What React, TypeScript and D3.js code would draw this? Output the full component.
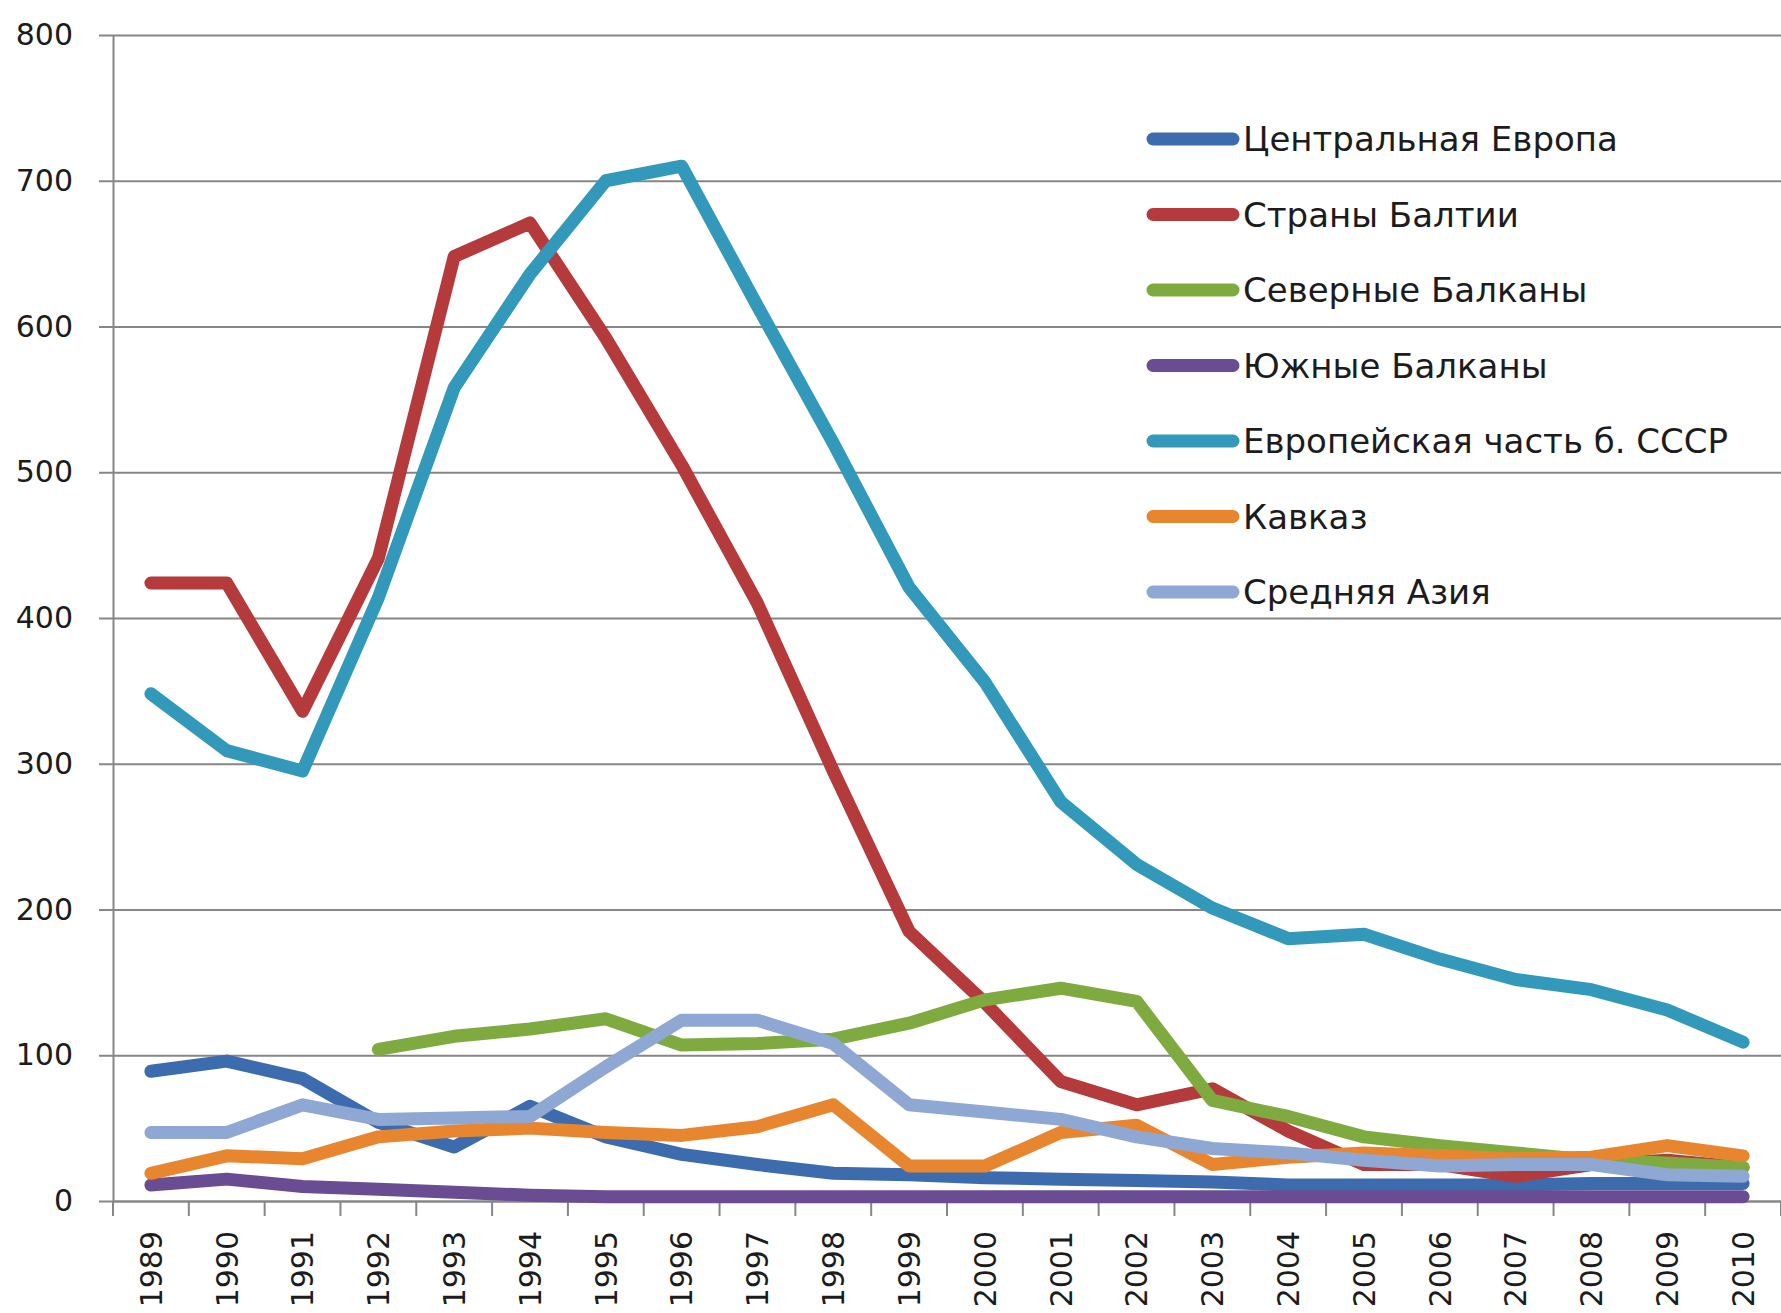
import { useEffect, useRef } from 'react';
import * as d3 from 'd3';

const years = [
  '1989', '1990', '1991', '1992', '1993', '1994', '1995', '1996', '1997', '1998', '1999',
  '2000', '2001', '2002', '2003', '2004', '2005', '2006', '2007', '2008', '2009', '2010',
];

const centralEurope = [89, 96, 84, 54, 37, 65, 44, 32, 25, 19, 18, 16, 15, 14, 13, 11, 11, 11, 11, 12, 12, 12];
const baltic = [424, 424, 336, 441, 648, 671, 592, 505, 410, 295, 185, 136, 82, 66, 77, 48, 25, 25, 17, 25, 28, 23];
const northBalkans = [null, null, null, 104, 113, 118, 125, 107, 108, 111, 122, 138, 146, 137, 69, 58, 44, 38, 33, 28, 26, 23];
const southBalkans = [11, 15, 10, 8, 6, 4, 3, 3, 3, 3, 3, 3, 3, 3, 3, 3, 3, 3, 3, 3, 3, 3];
const exUssr = [348, 309, 295, 414, 558, 636, 700, 710, 614, 520, 421, 356, 274, 231, 201, 180, 183, 166, 152, 145, 131, 109];
const caucasus = [19, 31, 29, 44, 48, 50, 47, 45, 51, 66, 24, 24, 47, 52, 25, 30, 33, 31, 29, 30, 38, 31];
const centralAsia = [47, 47, 66, 56, 57, 58, 92, 124, 124, 108, 66, 61, 56, 44, 36, 33, 28, 24, 25, 25, 18, 17];

const seriesNames = [
  'Центральная Европа',
  'Страны Балтии',
  'Северные Балканы',
  'Южные Балканы',
  'Европейская часть б. СССР',
  'Кавказ',
  'Средняя Азия',
];
const seriesColors = ['#3d6cae', '#b43a3b', '#7eaa40', '#6a4c93', '#3399ba', '#e8862f', '#8fa7d3'];
const seriesValues = [centralEurope, baltic, northBalkans, southBalkans, exUssr, caucasus, centralAsia];

const yTicks = [0, 100, 200, 300, 400, 500, 600, 700, 800];

export default function App() {
  const svgRef = useRef<SVGSVGElement>(null);

  useEffect(() => {
    if (!svgRef.current) return;
    const svg = d3.select(svgRef.current);
    svg.selectAll('*').remove();

    const width = 1781;
    const height = 1313;
    const margin = { top: 35, right: 0, bottom: 112, left: 113 };
    const innerWidth = width - margin.left - margin.right;
    const innerHeight = height - margin.top - margin.bottom;
    const grid = '#868686';

    const x = d3.scaleBand<string>().domain(years).range([0, innerWidth]).padding(0);
    const y = d3.scaleLinear().domain([0, 800]).range([innerHeight, 0]);
    const cx = (d: string) => (x(d) ?? 0) + x.bandwidth() / 2;

    const g = svg.append('g').attr('transform', `translate(${margin.left},${margin.top})`);

    // gridlines
    g.append('g')
      .call(d3.axisLeft(y).tickValues(yTicks).tickSize(-innerWidth).tickFormat(() => ''))
      .call((s) => s.select('.domain').remove())
      .call((s) => s.selectAll('line').attr('stroke', grid).attr('stroke-width', 2));

    // y axis
    const yAxis = g.append('g')
      .call(d3.axisLeft(y).tickValues(yTicks).tickSize(14).tickPadding(26).tickSizeOuter(0));
    yAxis.select('.domain').attr('stroke', grid).attr('stroke-width', 2);
    yAxis.selectAll('line').attr('stroke', grid).attr('stroke-width', 2);
    yAxis.selectAll('text')
      .attr('font-family', 'DejaVu Sans, sans-serif')
      .attr('font-size', 30)
      .attr('fill', '#1c1c1c');

    // x axis
    const xAxis = g.append('g')
      .attr('transform', `translate(0,${innerHeight})`)
      .call(d3.axisBottom(x).tickSize(0).tickSizeOuter(0));
    xAxis.select('.domain').attr('stroke', grid).attr('stroke-width', 2);
    xAxis.selectAll('text')
      .attr('font-family', 'DejaVu Sans, sans-serif')
      .attr('font-size', 30)
      .attr('fill', '#1c1c1c')
      .attr('transform', 'rotate(-90)')
      .attr('text-anchor', 'end')
      .attr('x', -30)
      .attr('y', 0)
      .attr('dy', '0.36em');

    const boundaries = [...years.map((d) => x(d) ?? 0), innerWidth];
    xAxis.selectAll('line.boundary')
      .data(boundaries)
      .join('line')
      .attr('class', 'boundary')
      .attr('x1', (d) => d)
      .attr('x2', (d) => d)
      .attr('y1', 0)
      .attr('y2', 15)
      .attr('stroke', grid)
      .attr('stroke-width', 2);

    // series
    const line = d3
      .line<number | null>()
      .defined((d) => d !== null)
      .x((_, i) => cx(years[i]))
      .y((d) => y(d as number));

    seriesValues.forEach((vals, i) => {
      g.append('path')
        .datum(vals)
        .attr('fill', 'none')
        .attr('stroke', seriesColors[i])
        .attr('stroke-width', 13)
        .attr('stroke-linecap', 'round')
        .attr('stroke-linejoin', 'round')
        .attr('d', line);
    });

    // legend
    const legend = svg.append('g').attr('transform', 'translate(1153,139)');
    seriesNames.forEach((name, i) => {
      const row = legend.append('g').attr('transform', `translate(0,${i * 75.5})`);
      row.append('line')
        .attr('x1', 0)
        .attr('x2', 80)
        .attr('stroke', seriesColors[i])
        .attr('stroke-width', 13)
        .attr('stroke-linecap', 'round');
      row.append('text')
        .attr('x', 90)
        .attr('dy', '0.36em')
        .attr('font-family', 'DejaVu Sans, sans-serif')
        .attr('font-size', 34)
        .attr('fill', '#1c1c1c')
        .text(name);
    });
  }, []);

  return (
    <div>
      <style>{'body{margin:0;background:#fff}'}</style>
      <svg ref={svgRef} width={1781} height={1313} style={{ display: 'block' }} />
    </div>
  );
}
